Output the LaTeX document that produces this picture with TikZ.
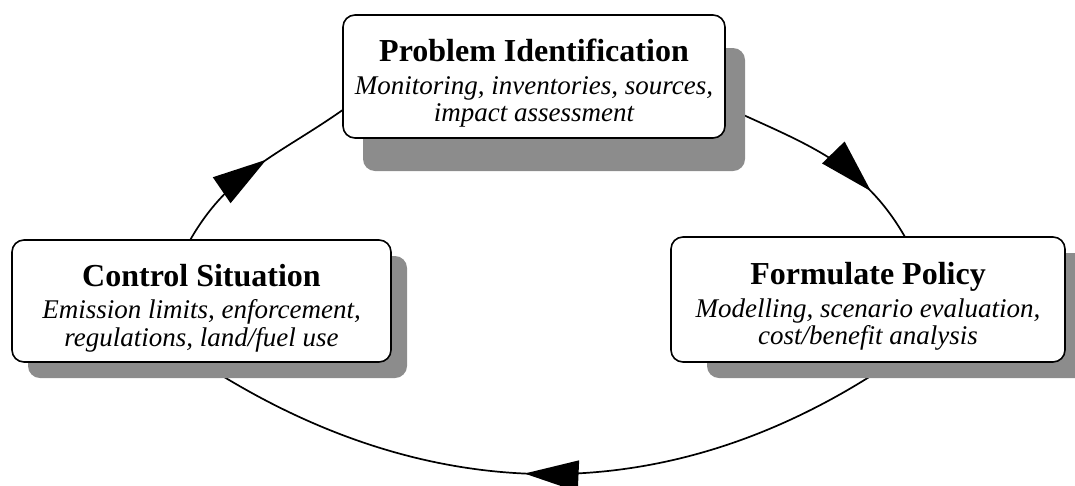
\documentclass[tikz,border=0pt]{standalone}
\usepackage{fontspec}
\setmainfont{Liberation Serif}
\usetikzlibrary{arrows.meta,decorations.markings,shadows,backgrounds}

\newcommand{\stagetitle}[1]{{\fontsize{32}{34}\selectfont\bfseries\rule{0pt}{36pt}#1}}
\newcommand{\stagenote}[1]{{\itshape #1}}

\begin{document}
\begin{tikzpicture}[x=1pt,y=-1pt,
        font=\fontsize{27}{27.5}\selectfont,
        stage/.style={draw,line width=1.6pt,fill=white,rounded corners=12pt,
            align=center,inner sep=0pt},
        stageshadow/.style 2 args={drop shadow={shadow xshift=#1,
            shadow yshift=#2,fill=black!45,opacity=1}},
        flow/.style={line width=1.7pt,postaction={decorate},
            decoration={markings,mark=at position #1 with
                {\arrow{Triangle[length=54pt,width=31pt]}}}}]

    \useasboundingbox (0,0) rectangle (1075,485);

    \node[stage,stageshadow={20pt}{-33pt},minimum width=382pt,minimum height=123pt]
        (prob) at (534,76.5) {\stagetitle{Problem Identification}\\[5pt]
        \stagenote{Monitoring, inventories, sources,}\\
        \stagenote{impact assessment}};
    \node[stage,stageshadow={16pt}{-16pt},minimum width=379pt,minimum height=122pt]
        (ctrl) at (201.5,301) {\stagetitle{Control Situation}\\[5pt]
        \stagenote{Emission limits, enforcement,}\\
        \stagenote{regulations, land/fuel use}};
    \node[stage,stageshadow={36pt}{-16pt},minimum width=394pt,minimum height=125pt]
        (form) at (868,299.5) {\stagetitle{Formulate Policy}\\[5pt]
        \stagenote{Modelling, scenario evaluation,}\\
        \stagenote{cost/benefit analysis}};

    % the cycle runs behind the boxes
    \begin{scope}[on background layer]
        \draw[flow=0.55] (ctrl.100) to[out=60,in=215] (prob.190);
        \draw[flow=0.75] (prob.-9) to[out=-25,in=120] (form.60);
        \draw[flow=0.53] (form.-70) to[out=214,in=-33] (ctrl.-90);
    \end{scope}

\end{tikzpicture}
\end{document}
